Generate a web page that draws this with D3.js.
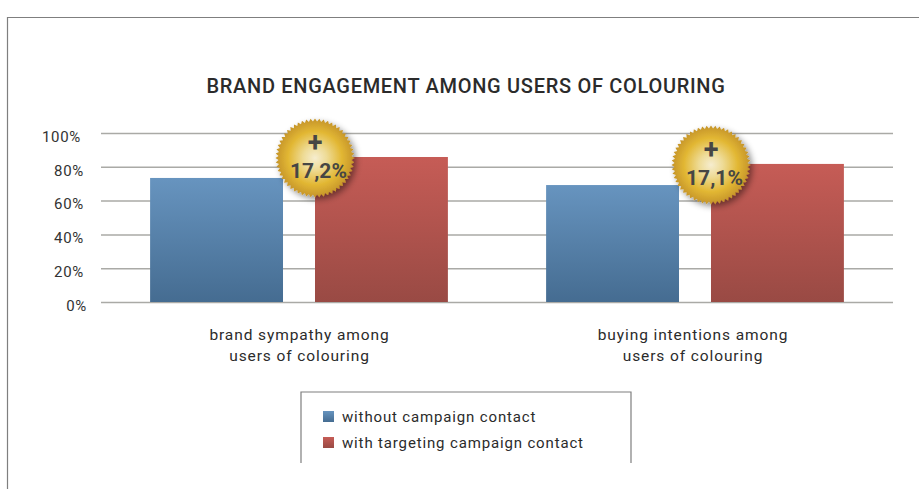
<!DOCTYPE html>
<html>
<head>
<meta charset="utf-8">
<script src="https://cdn.jsdelivr.net/npm/d3@7"></script>
<style>
  html, body { margin: 0; padding: 0; background: #fff; overflow: hidden; }
  text { font-family: Roboto, sans-serif; fill: #2b2b2b; }
</style>
</head>
<body>
<div id="chart"></div>
<script>
// Data
const categories = [
  ["brand sympathy among", "users of colouring"],
  ["buying intentions among", "users of colouring"]
];
const seriesNames = ["without campaign contact", "with targeting campaign contact"];
const withoutContact = [73.4, 69.2];
const withContact = [85.8, 81.7];
const yTicks = [0, 20, 40, 60, 80, 100];
const badgeLabels = ["17,2%", "17,1%"];

const width = 919;
const height = 489;
const marginTop = 133;
const marginRight = 26;
const marginBottom = 187;
const marginLeft = 101;

const svg = d3.select("#chart").append("svg")
  .attr("width", width)
  .attr("height", height);

const defs = svg.append("defs");

function barGradient(id, top, bottom) {
  const g = defs.append("linearGradient").attr("id", id)
    .attr("x1", 0).attr("y1", 0).attr("x2", 0).attr("y2", 1);
  g.append("stop").attr("offset", "0%").attr("stop-color", top);
  g.append("stop").attr("offset", "100%").attr("stop-color", bottom);
}
barGradient("blueGrad", "#6794bf", "#456c91");
barGradient("redGrad", "#c65c56", "#994a44");

const gold = defs.append("radialGradient").attr("id", "goldGrad");
gold.append("stop").attr("offset", "0%").attr("stop-color", "#f6edcf");
gold.append("stop").attr("offset", "30%").attr("stop-color", "#eedb96");
gold.append("stop").attr("offset", "68%").attr("stop-color", "#e2b733");
gold.append("stop").attr("offset", "100%").attr("stop-color", "#c4932a");

const shadow = defs.append("filter").attr("id", "badgeShadow")
  .attr("x", "-30%").attr("y", "-30%").attr("width", "160%").attr("height", "160%");
shadow.append("feDropShadow")
  .attr("dx", 3).attr("dy", 3).attr("stdDeviation", 3)
  .attr("flood-color", "#000").attr("flood-opacity", 0.45);

// Outer frame, open on the right and at the bottom
svg.append("path")
  .attr("d", `M7.5,${height} V17.5 H${width}`)
  .attr("fill", "none")
  .attr("stroke", "#7f7f7f")
  .attr("stroke-width", 1.2);

svg.append("text")
  .attr("x", 466)
  .attr("y", 93)
  .attr("text-anchor", "middle")
  .style("font-size", "20px")
  .style("font-weight", 500)
  .style("letter-spacing", "0.7px")
  .text("BRAND ENGAGEMENT AMONG USERS OF COLOURING");

// Scales
const x0 = d3.scaleBand()
  .domain(d3.range(categories.length))
  .range([marginLeft, width - marginRight])
  .paddingInner(0.248)
  .paddingOuter(0.124);

const x1 = d3.scaleBand()
  .domain([0, 1])
  .range([0, x0.bandwidth()])
  .paddingInner(0.194);

const y = d3.scaleLinear()
  .domain([0, 100])
  .range([height - marginBottom, marginTop]);

// Y axis and gridlines
const yAxis = svg.append("g")
  .attr("transform", `translate(${marginLeft},0)`)
  .call(d3.axisLeft(y)
    .tickValues(yTicks)
    .tickFormat((d) => d + "%")
    .tickSize(-(width - marginRight - marginLeft))
    .tickPadding(17));

yAxis.select(".domain").remove();
yAxis.selectAll(".tick line")
  .attr("stroke", "#aaaaa6")
  .attr("stroke-width", 1.5);
// labels in the reference do not share one right edge
yAxis.selectAll(".tick text")
  .attr("dy", "0.55em")
  .attr("dx", (d) => (d === 100 ? -3 : d === 0 ? 3 : 0))
  .style("font-size", "15px")
  .style("letter-spacing", "0.7px")
  .style("fill", "#333");

// Bars
const groups = svg.selectAll(".group")
  .data(categories.map((c, i) => [withoutContact[i], withContact[i]]))
  .join("g")
  .attr("class", "group")
  .attr("transform", (d, i) => `translate(${x0(i)},0)`);

groups.selectAll("rect")
  .data((d) => d)
  .join("rect")
  .attr("x", (d, i) => x1(i))
  .attr("y", (d) => y(d))
  .attr("width", x1.bandwidth())
  .attr("height", (d) => y(0) - y(d))
  .attr("fill", (d, i) => (i === 0 ? "url(#blueGrad)" : "url(#redGrad)"));

// Category labels
categories.forEach((lines, i) => {
  const t = svg.append("text")
    .attr("text-anchor", "middle")
    .style("font-size", "15.5px")
    .style("letter-spacing", "0.9px");
  lines.forEach((line, k) => {
    t.append("tspan")
      .attr("x", x0(i) + x0.bandwidth() / 2 + (i === 0 ? 0.5 : -2))
      .attr("y", 340 + k * 21)
      .text(line);
  });
});

// Gold badges sit on the top left corner of the red bar
function starburst(r, teeth) {
  const pts = d3.range(teeth * 2).map((k) => {
    const a = (k / (teeth * 2)) * 2 * Math.PI;
    const rr = k % 2 === 0 ? r : r - 3;
    return [rr * Math.cos(a), rr * Math.sin(a)];
  });
  return d3.line().curve(d3.curveLinearClosed)(pts);
}

badgeLabels.forEach((label, i) => {
  const cx = x0(i) + x1(1);
  const cy = y(withContact[i]) + 1;
  const b = svg.append("g").attr("transform", `translate(${cx},${cy})`);
  b.append("path")
    .attr("d", starburst(39.5, 56))
    .attr("fill", "url(#goldGrad)")
    .attr("filter", "url(#badgeShadow)");
  b.append("text")
    .attr("text-anchor", "middle")
    .attr("y", -6)
    .style("font-size", "27px")
    .style("font-weight", 700)
    .style("fill", "#464644")
    .text("+");
  b.append("text")
    .attr("x", 3.5)
    .attr("y", 20)
    .attr("text-anchor", "middle")
    .style("font-size", "21px")
    .style("font-weight", 700)
    .style("fill", "#464644")
    .text(label);
});

// Legend box, cut off at the bottom
svg.append("path")
  .attr("d", "M301,463 V392 H631 V463")
  .attr("fill", "none")
  .attr("stroke", "#7f7f7f")
  .attr("stroke-width", 1.2);

const legend = svg.selectAll(".legendItem")
  .data(seriesNames)
  .join("g")
  .attr("class", "legendItem")
  .attr("transform", (d, i) => `translate(323,${411 + i * 26})`);

legend.append("rect")
  .attr("width", 11)
  .attr("height", 11)
  .attr("fill", (d, i) => (i === 0 ? "url(#blueGrad)" : "url(#redGrad)"));

legend.append("text")
  .attr("x", 19)
  .attr("y", 11)
  .style("font-size", "15px")
  .style("letter-spacing", "0.85px")
  .text((d) => d);
</script>
</body>
</html>
